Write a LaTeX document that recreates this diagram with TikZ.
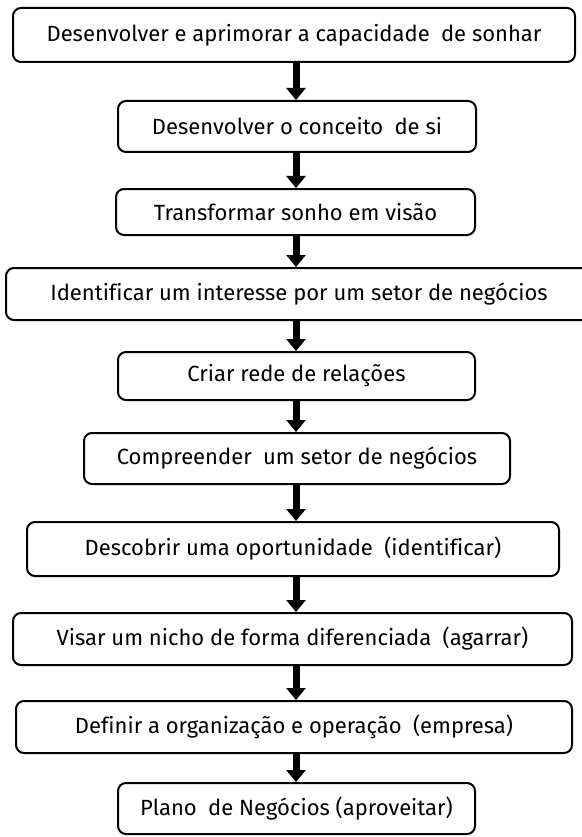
\documentclass[tikz,border=0pt]{standalone}
\usepackage{fontspec}
\setmainfont[Ligatures=NoCommon]{Fira Sans}
\usetikzlibrary{arrows.meta}
\newcommand{\xsp}{\hspace{0.25em}}
\begin{document}
\begin{tikzpicture}[x=1pt,y=-1pt,
  stepbox/.style={draw=black, line width=2pt, rounded corners=8pt, fill=white,
    inner sep=0pt, align=center, font=\fontsize{22}{26}\selectfont},
  flowarrow/.style={draw=black, line width=7pt, -{Triangle[width=19pt,length=12pt]}, shorten <=-1pt}
]
\useasboundingbox[fill=white] (0,0) rectangle (581,837);
\node[stepbox, minimum width=562pt, minimum height=54pt] (b1) at (294,35) {Desenvolver e aprimorar a capacidade \xsp de sonhar};
\node[stepbox, minimum width=358pt, minimum height=51pt] (b2) at (297,126.5) {Desenvolver o conceito \xsp de si};
\node[stepbox, minimum width=359pt, minimum height=46pt] (b3) at (295.5,212) {Transformar sonho em visão};
\node[stepbox, minimum width=586pt, minimum height=52pt] (b4) at (299,294) {Identificar um interesse por um setor de negócios};
\node[stepbox, minimum width=357pt, minimum height=48pt] (b5) at (296.5,376) {Criar rede de relações};
\node[stepbox, minimum width=426pt, minimum height=51pt] (b6) at (297,458.5) {Compreender \xsp um setor de negócios};
\node[stepbox, minimum width=532pt, minimum height=54pt] (b7) at (293,549) {Descobrir uma oportunidade \xsp (identificar)};
\node[stepbox, minimum width=559pt, minimum height=52pt] (b8) at (292.5,639) {Visar um nicho de forma diferenciada \xsp (agarrar)};
\node[stepbox, minimum width=556pt, minimum height=52pt] (b9) at (294,727) {Definir a organização e operação \xsp (empresa)};
\node[stepbox, minimum width=357pt, minimum height=51pt] (b10) at (296.5,808.5) {Plano \xsp de Negócios (aproveitar)};
\coordinate (ax) at (296,0);
\foreach \a/\b in {b1/b2,b2/b3,b3/b4,b4/b5,b5/b6,b6/b7,b7/b8,b8/b9,b9/b10}
  \draw[flowarrow] (\a.south -| ax) -- (\b.north -| ax);
\end{tikzpicture}
\end{document}
